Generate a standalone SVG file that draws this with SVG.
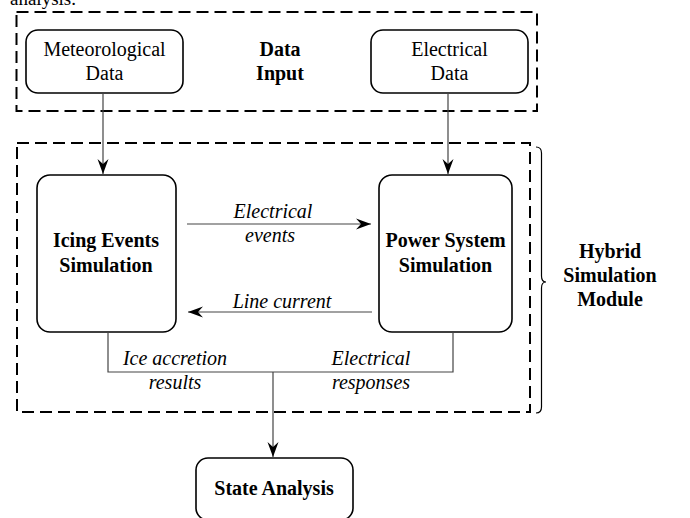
<svg xmlns="http://www.w3.org/2000/svg" width="690" height="518" viewBox="0 0 690 518">
<style>
.bg{fill:#fff}
.box{fill:#fff;stroke:#000;stroke-width:1.6}
.dash{fill:none;stroke:#000;stroke-width:2;stroke-dasharray:12 6}
.conn{fill:none;stroke:#444;stroke-width:1.2}
text{font-family:'Liberation Serif','Times New Roman',Tinos,'Nimbus Roman','DejaVu Serif',serif;font-size:20px;fill:#000;text-anchor:middle}
.b{font-weight:bold}
.i{font-style:italic}
</style>
<defs>
<marker id="arr" markerUnits="userSpaceOnUse" viewBox="-16 -7 17 14" refX="0" refY="0" markerWidth="17" markerHeight="14" orient="auto">
<path d="M0,0 L-15,-5.5 L-10,0 L-15,5.5 Z" fill="#000"/>
</marker>
</defs>
<rect class="bg" x="0" y="0" width="690" height="518"/>
<text x="10" y="5" font-family="Liberation Serif, serif" style="text-anchor:start;font-size:19px">analysis.</text>

<g id="data-input">
<rect class="dash" x="16.5" y="12" width="520.5" height="99"/>
<text class="b" x="280" y="56" font-family="Liberation Serif, serif">Data</text>
<text class="b" x="280" y="80" font-family="Liberation Serif, serif">Input</text>
</g>
<g id="meteorological-data">
<rect class="box" x="26" y="30" width="157" height="63" rx="12"/>
<text x="104.5" y="56" font-family="Liberation Serif, serif">Meteorological</text>
<text x="104.5" y="80" font-family="Liberation Serif, serif">Data</text>
</g>
<g id="electrical-data">
<rect class="box" x="371" y="30" width="157" height="63" rx="12"/>
<text x="449.5" y="56" font-family="Liberation Serif, serif">Electrical</text>
<text x="449.5" y="80" font-family="Liberation Serif, serif">Data</text>
</g>

<g id="hybrid-simulation-module">
<rect class="dash" x="17" y="143" width="513" height="269"/>
<path d="M536,147 Q541.5,147 541.5,153 L541.5,276 Q541.5,282 546,282 Q541.5,282 541.5,288 L541.5,407 Q541.5,413 536,413" fill="none" stroke="#000" stroke-width="1.2"/>
<text class="b" x="610" y="258" font-family="Liberation Serif, serif">Hybrid</text>
<text class="b" x="610" y="282" font-family="Liberation Serif, serif">Simulation</text>
<text class="b" x="610" y="306" font-family="Liberation Serif, serif">Module</text>
</g>
<g id="icing-events-simulation">
<rect class="box" x="37" y="175" width="139" height="157" rx="13"/>
<text class="b" x="106" y="247" font-family="Liberation Serif, serif">Icing Events</text>
<text class="b" x="106" y="272" font-family="Liberation Serif, serif">Simulation</text>
</g>
<g id="power-system-simulation">
<rect class="box" x="379" y="175" width="133" height="157" rx="13"/>
<text class="b" x="445.5" y="247" font-family="Liberation Serif, serif">Power System</text>
<text class="b" x="445.5" y="272" font-family="Liberation Serif, serif">Simulation</text>
</g>
<g id="state-analysis">
<rect class="box" x="196" y="458" width="157" height="62" rx="12"/>
<text class="b" x="274" y="495" font-family="Liberation Serif, serif">State Analysis</text>
</g>

<g id="connectors">
<line class="conn" x1="103" y1="93" x2="103" y2="174" marker-end="url(#arr)"/>
<line class="conn" x1="448" y1="93" x2="448" y2="174" marker-end="url(#arr)"/>
<line class="conn" x1="187" y1="224" x2="371" y2="224" marker-end="url(#arr)"/>
<line class="conn" x1="372" y1="312" x2="188" y2="312" marker-end="url(#arr)"/>
<polyline class="conn" points="108,332 108,372 453,372 453,332"/>
<line class="conn" x1="273" y1="372" x2="273" y2="457" marker-end="url(#arr)"/>
<text class="i" x="273" y="218" font-family="Liberation Serif, serif">Electrical</text>
<text class="i" x="270" y="242" font-family="Liberation Serif, serif">events</text>
<text class="i" x="282" y="308" font-family="Liberation Serif, serif">Line current</text>
<text class="i" x="175" y="365" font-family="Liberation Serif, serif">Ice accretion</text>
<text class="i" x="175" y="389" font-family="Liberation Serif, serif">results</text>
<text class="i" x="371" y="365" font-family="Liberation Serif, serif">Electrical</text>
<text class="i" x="371" y="389" font-family="Liberation Serif, serif">responses</text>
</g>
</svg>
